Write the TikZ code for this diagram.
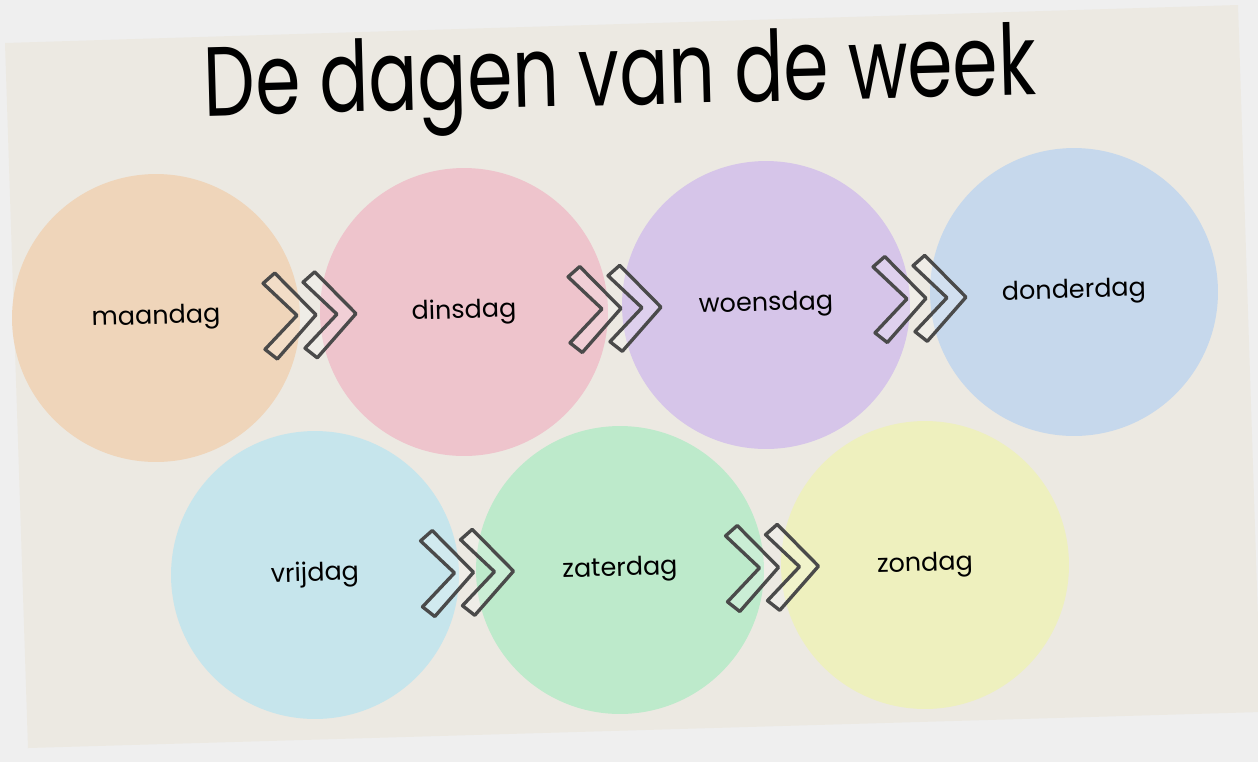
\documentclass[tikz,border=0pt]{standalone}
\usepackage{fontspec}
\setmainfont{Poppins}
\newfontfamily\titlefont[FakeStretch=0.74]{Poppins}
\usetikzlibrary{calc}

\definecolor{outside}{HTML}{EFEFEF}
\definecolor{paper}{HTML}{ECE9E2}
\definecolor{peach}{HTML}{EFD5BA}
\definecolor{rose}{HTML}{EEC4CC}
\definecolor{lilac}{HTML}{D6C5E9}
\definecolor{sky}{HTML}{C6D8EC}
\definecolor{aqua}{HTML}{C6E5EC}
\definecolor{mint}{HTML}{BDEACB}
\definecolor{lemon}{HTML}{EEF0BE}
\definecolor{chevgray}{HTML}{4A4A4A}

\tikzset{
  day/.style={circle, minimum size=5.76cm, inner sep=0pt, rotate=1.7,
    font=\fontsize{14.5}{18}\selectfont},
  chev/.style={draw=chevgray, line width=1.9pt, line join=round,
    fill=white, fill opacity=0.2},
  dblchev/.pic={
    \foreach \s in {-46,-6}
      \draw[chev] (\s,-33) -- ++(12,-10) -- ++(40,43) -- ++(-40,43)
        -- ++(-12,-10) -- ++(33,-33) -- cycle;
  }
}

\begin{document}
\begin{tikzpicture}[x=0.02cm, y=-0.02cm]
\useasboundingbox (0,0) rectangle (1258,762);
\fill[outside] (0,0) rectangle (1258,762);
\fill[paper] (5,43) -- (1238,5) -- (1261,712) -- (28,748) -- cycle;

\node[rotate=1.5, font=\titlefont\fontsize{56}{60}\selectfont] (title) at (620,82) {De dagen van de week};

% top row
\node[day, fill=peach] (mon) at (156,318) {maandag};
\node[day, fill=rose]  (tue) at (464,312) {dinsdag};
\node[day, fill=lilac] (wed) at (766,305) {woensdag};
\node[day, fill=sky]   (thu) at (1074,292) {donderdag};

% bottom row
\node[day, fill=aqua]  (fri) at (315,575) {vrijdag};
\node[day, fill=mint]  (sat) at (620,570) {zaterdag};
\node[day, fill=lemon] (sun) at (925,565) {zondag};

\pic[rotate=1.7] at ($(mon)!0.5!(tue)$) {dblchev};
\pic[rotate=1.7] at ($(tue)!0.5!(wed)$) {dblchev};
\pic[rotate=1.7] at ($(wed)!0.5!(thu)$) {dblchev};
\pic[rotate=1.7] at ($(fri)!0.5!(sat)$) {dblchev};
\pic[rotate=1.7] at ($(sat)!0.5!(sun)$) {dblchev};

\end{tikzpicture}
\end{document}
